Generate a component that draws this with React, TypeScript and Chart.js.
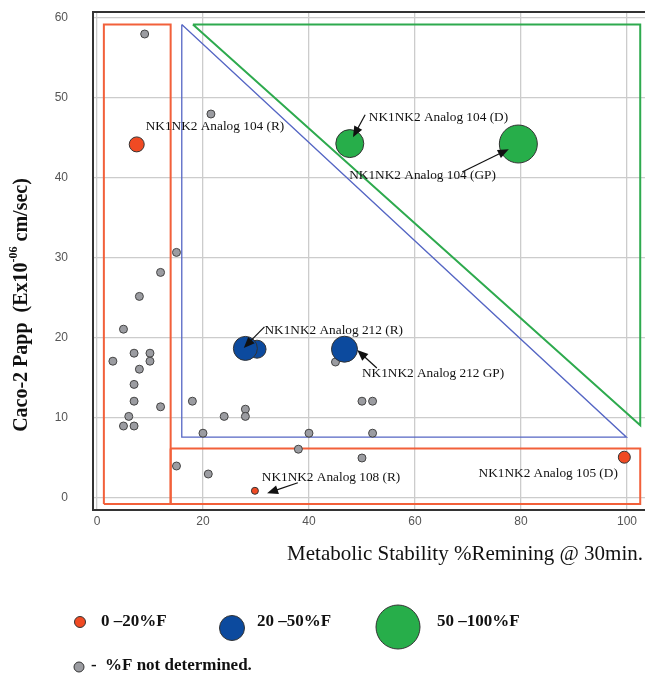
import React, { useEffect, useRef } from "react";
import { Chart, registerables } from "chart.js";

Chart.register(...registerables);

// ---- tick labels ----
const xTicks = [0, 20, 40, 60, 80, 100];
const yTicks = [0, 10, 20, 30, 40, 50, 60];

// ---- series: %F not determined (grey) ----
const greyX = [9, 21.5, 15, 12, 8, 5, 3, 7, 10, 10, 8, 7, 7, 12, 6, 5, 7, 18, 20, 24, 28, 28, 40, 38, 15, 21, 45, 50, 52, 52, 50];
const greyY = [58, 48, 30.7, 28.2, 25.2, 21.1, 17.1, 18.1, 18.1, 17.1, 16.1, 14.2, 12.1, 11.4, 10.2, 9, 9, 12.1, 8.1, 10.2, 11.1, 10.2, 8.1, 6.1, 4, 3, 17, 12.1, 12.1, 8.1, 5];

// ---- series: 0-20 %F (red) ----
const redX = [7.5, 29.8, 99.5];
const redY = [44.2, 0.9, 5.1];

// ---- series: 20-50 %F (blue) ----
const blueX = [30.2, 28, 46.7];
const blueY = [18.6, 18.7, 18.6];

// ---- series: 50-100 %F (green) ----
const greenX = [47.7, 79.5];
const greenY = [44.3, 44.25];

// ---- region outlines (data units) ----
const redBoxAX = [1.3, 1.3, 13.9, 13.9, 1.3];
const redBoxAY = [-0.75, 59.2, 59.2, -0.75, -0.75];
const redBoxBX = [13.9, 102.5, 102.5, 13.9, 13.9];
const redBoxBY = [6.2, 6.2, -0.75, -0.75, 6.2];
const blueTriX = [16, 16, 99.9, 16];
const blueTriY = [59.2, 7.6, 7.6, 59.2];
const greenTriX = [18.1, 102.5, 102.5, 18.1];
const greenTriY = [59.2, 59.2, 9.1, 59.2];

// ---- annotations ----
const annLabels = [
  "NK1NK2 Analog 104 (R)",
  "NK1NK2 Analog 104 (D)",
  "NK1NK2 Analog 104 (GP)",
  "NK1NK2 Analog 212 (R)",
  "NK1NK2 Analog 212 GP)",
  "NK1NK2 Analog 108 (R)",
  "NK1NK2 Analog 105 (D)",
];
const annX = [9.2, 51.3, 47.6, 31.6, 50.0, 31.1, 72.0];
const annY = [46.4, 47.6, 40.25, 20.9, 15.5, 2.5, 3.1];
const arrowTailX = [null, 50.6, 68.9, 31.6, 52.8, 37.9, null];
const arrowTailY = [null, 47.9, 40.75, 21.4, 16.25, 1.9, null];
const arrowHeadX = [null, 48.3, 77.7, 27.7, 49.1, 32.1, null];
const arrowHeadY = [null, 45.1, 43.6, 18.75, 18.5, 0.6, null];

// ---- legend ----
const legendLabels = ["0 \u201320%F", "20 \u201350%F", "50 \u2013100%F"];
const legendNote = "%F not determined.";

const RED = "#f04a23";
const BLUE = "#0c4a9e";
const GREEN = "#27ae4a";
const GREY = "#9b9ca1";
const REDLINE = "#f2603a";
const BLUELINE = "#5566c4";
const GREENLINE = "#2eaa4e";

const zip = (xs: number[], ys: number[]) => xs.map((x, i) => ({ x, y: ys[i] }));

function outline(xs: number[], ys: number[], color: string, width: number) {
  return {
    type: "scatter" as const,
    data: zip(xs, ys),
    showLine: true,
    fill: false,
    borderColor: color,
    borderWidth: width,
    pointRadius: 0,
    pointHoverRadius: 0,
    tension: 0,
    order: 10,
  };
}

const SERIF = "'Liberation Serif', 'Times New Roman', serif";

const overlay = {
  id: "overlay",
  afterDatasetsDraw(chart: any) {
    const { ctx, chartArea, scales } = chart;
    const xs = scales.x;
    const ys = scales.y;
    ctx.save();
    // top border
    ctx.strokeStyle = "#333";
    ctx.lineWidth = 2;
    ctx.beginPath();
    ctx.moveTo(chartArea.left - 1, chartArea.top);
    ctx.lineTo(chartArea.right, chartArea.top);
    ctx.stroke();

    // annotations
    ctx.fillStyle = "#111";
    ctx.font = `13.3px ${SERIF}`;
    ctx.textBaseline = "middle";
    ctx.textAlign = "left";
    annLabels.forEach((t, i) => {
      ctx.fillText(t, xs.getPixelForValue(annX[i]), ys.getPixelForValue(annY[i]));
      if (arrowTailX[i] !== null) {
        const x1 = xs.getPixelForValue(arrowTailX[i] as number);
        const y1 = ys.getPixelForValue(arrowTailY[i] as number);
        const x2 = xs.getPixelForValue(arrowHeadX[i] as number);
        const y2 = ys.getPixelForValue(arrowHeadY[i] as number);
        const a = Math.atan2(y2 - y1, x2 - x1);
        const L = 11, W = 4.5;
        ctx.strokeStyle = "#111";
        ctx.lineWidth = 1.2;
        ctx.beginPath();
        ctx.moveTo(x1, y1);
        ctx.lineTo(x2 - Math.cos(a) * L * 0.8, y2 - Math.sin(a) * L * 0.8);
        ctx.stroke();
        ctx.beginPath();
        ctx.moveTo(x2, y2);
        ctx.lineTo(x2 - Math.cos(a) * L - Math.sin(a) * W, y2 - Math.sin(a) * L + Math.cos(a) * W);
        ctx.lineTo(x2 - Math.cos(a) * L + Math.sin(a) * W, y2 - Math.sin(a) * L - Math.cos(a) * W);
        ctx.closePath();
        ctx.fill();
      }
    });
    ctx.restore();
  },
  afterDraw(chart: any) {
    const { ctx } = chart;
    ctx.save();
    // x title
    ctx.fillStyle = "#111";
    ctx.font = `21px ${SERIF}`;
    ctx.textAlign = "right";
    ctx.textBaseline = "middle";
    ctx.fillText("Metabolic Stability %Remining @ 30min.", 643, 554);

    // y title with superscript
    ctx.translate(22, 305);
    ctx.rotate(-Math.PI / 2);
    const p1 = "Caco-2 Papp  (Ex10";
    const sup = "-06";
    const p2 = " cm/sec)";
    ctx.font = `bold 20px ${SERIF}`;
    const w1 = ctx.measureText(p1).width;
    const w3 = ctx.measureText(p2).width;
    ctx.font = `bold 12px ${SERIF}`;
    const w2 = ctx.measureText(sup).width;
    const total = w1 + w2 + w3;
    let x0 = -total / 2;
    ctx.textAlign = "left";
    ctx.textBaseline = "middle";
    ctx.font = `bold 20px ${SERIF}`;
    ctx.fillText(p1, x0, 0);
    ctx.font = `bold 12px ${SERIF}`;
    ctx.fillText(sup, x0 + w1, -8);
    ctx.font = `bold 20px ${SERIF}`;
    ctx.fillText(p2, x0 + w1 + w2, 0);
    ctx.setTransform(1, 0, 0, 1, 0, 0);

    // legend
    const circ = (x: number, y: number, r: number, c: string) => {
      ctx.beginPath();
      ctx.arc(x, y, r, 0, Math.PI * 2);
      ctx.fillStyle = c;
      ctx.fill();
      ctx.strokeStyle = "#333";
      ctx.lineWidth = 1;
      ctx.stroke();
    };
    circ(80, 622, 5.5, RED);
    circ(232, 628, 12.5, BLUE);
    circ(398, 627, 22, GREEN);
    circ(79, 667, 5, GREY);
    ctx.fillStyle = "#111";
    ctx.font = `bold 17px ${SERIF}`;
    ctx.textAlign = "left";
    ctx.textBaseline = "middle";
    ctx.fillText(legendLabels[0], 101, 622);
    ctx.fillText(legendLabels[1], 257, 622);
    ctx.fillText(legendLabels[2], 437, 622);
    ctx.fillText("-", 91, 666);
    ctx.fillText(legendNote, 105, 666);
    ctx.restore();
  },
};

export default function App() {
  const ref = useRef<HTMLCanvasElement | null>(null);
  useEffect(() => {
    if (!ref.current) return;
    const chart = new Chart(ref.current, {
      type: "scatter",
      data: {
        datasets: [
          {
            data: zip(greenX, greenY),
            backgroundColor: GREEN,
            borderColor: "#333",
            borderWidth: 1,
            pointRadius: [14, 19],
            order: 1,
          } as any,
          {
            data: zip(blueX, blueY),
            backgroundColor: BLUE,
            borderColor: "#333",
            borderWidth: 1,
            pointRadius: [9, 12, 13],
            order: 2,
          } as any,
          {
            data: zip(redX, redY),
            backgroundColor: RED,
            borderColor: "#333",
            borderWidth: 1,
            pointRadius: [7.5, 3.5, 6],
            order: 3,
          } as any,
          {
            data: zip(greyX, greyY),
            backgroundColor: GREY,
            borderColor: "#444",
            borderWidth: 1,
            pointRadius: 4,
            order: 4,
          } as any,
          outline(redBoxAX, redBoxAY, REDLINE, 2),
          outline(redBoxBX, redBoxBY, REDLINE, 2),
          outline(blueTriX, blueTriY, BLUELINE, 1.3),
          outline(greenTriX, greenTriY, GREENLINE, 2),
        ],
      },
      options: {
        responsive: false,
        animation: false,
        layout: { autoPadding: false, padding: { left: 0, top: 12, right: 0, bottom: 143 } },
        plugins: {
          legend: { display: false },
          tooltip: { enabled: false },
          title: { display: false },
        },
        scales: {
          x: {
            type: "linear",
            min: -0.75,
            max: 103.4,
            afterBuildTicks: (s: any) => {
              s.ticks = xTicks.map((v) => ({ value: v }));
            },
            afterFit: (s: any) => {
              s.height = 20;
            },
            ticks: {
              padding: 4,
              color: "#555",
              font: { family: "'Liberation Sans', Arial, sans-serif", size: 12 },
            },
            grid: { color: "#cccccc", lineWidth: 1.3, drawTicks: false },
            border: { display: true, color: "#333", width: 2 },
          },
          y: {
            type: "linear",
            min: -1.5,
            max: 60.75,
            afterBuildTicks: (s: any) => {
              s.ticks = yTicks.map((v) => ({ value: v }));
            },
            afterFit: (s: any) => {
              s.width = 93;
            },
            ticks: {
              padding: 4,
              color: "#555",
              font: { family: "'Liberation Sans', Arial, sans-serif", size: 12 },
            },
            grid: {
              color: "#cccccc",
              lineWidth: 1.3,
              drawTicks: true,
              tickLength: 21,
              tickColor: "rgba(0,0,0,0)",
            },
            border: { display: true, color: "#333", width: 2 },
          },
        },
      } as any,
      plugins: [overlay],
    });
    return () => chart.destroy();
  }, []);
  return (
    <div style={{ position: "absolute", left: 0, top: 0, width: 645, height: 673, background: "#fff" }}>
      <canvas ref={ref} width={645} height={673} style={{ width: 645, height: 673, display: "block" }} />
    </div>
  );
}
